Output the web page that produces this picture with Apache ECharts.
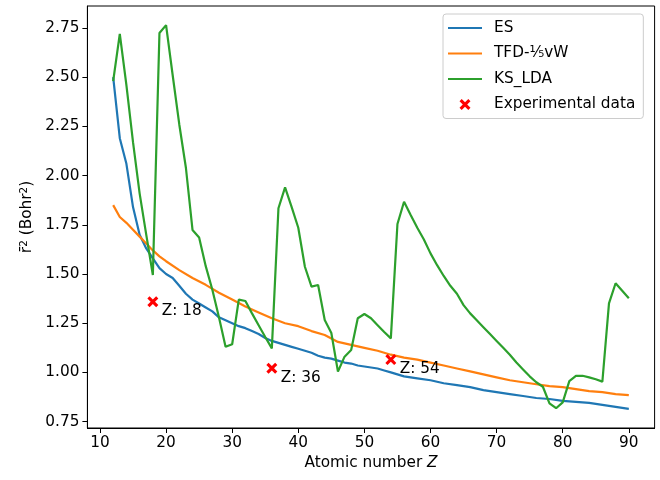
<!DOCTYPE html>
<html>
<head>
<meta charset="utf-8">
<script src="https://cdn.jsdelivr.net/npm/echarts@6/dist/echarts.min.js"></script>
<style>html,body{margin:0;padding:0;background:#fff}#c{width:660px;height:480px}</style>
</head>
<body>
<div id="c"></div>
<script>
// ---- data ----
const esZ   = [12,13,14,15,16,17,18,19,20,21,22,23,24,25,26,27,28,29,30,31,32,33,34,35,36,37,38,39,40,41,42,43,44,45,46,47,48,49,50,51,52,53,54,55,56,58,60,62,64,66,68,70,72,74,76,78,80,82,84,86,88,90];
const esV   = [2.50,2.19,2.06,1.84,1.70,1.63,1.58,1.53,1.50,1.48,1.44,1.40,1.37,1.35,1.33,1.31,1.28,1.265,1.25,1.235,1.225,1.21,1.195,1.175,1.16,1.15,1.14,1.13,1.12,1.11,1.10,1.085,1.075,1.07,1.06,1.05,1.045,1.035,1.03,1.025,1.02,1.01,1.0,0.99,0.98,0.97,0.96,0.945,0.935,0.925,0.91,0.90,0.89,0.88,0.87,0.865,0.855,0.85,0.845,0.835,0.825,0.815];

const tfdZ  = [12,13,14,15,16,17,18,19,20,22,24,26,28,30,32,34,36,38,40,42,44,46,48,50,52,54,56,58,60,62,64,66,68,70,72,74,76,78,80,82,84,86,88,90];
const tfdV  = [1.85,1.79,1.76,1.725,1.69,1.655,1.62,1.59,1.565,1.52,1.48,1.445,1.405,1.37,1.335,1.305,1.275,1.25,1.235,1.21,1.19,1.155,1.14,1.125,1.11,1.09,1.075,1.065,1.05,1.035,1.02,1.005,0.99,0.975,0.96,0.95,0.94,0.93,0.925,0.915,0.905,0.90,0.89,0.885];

const ksZ   = [12,13,14,15,16,17,18,19,20,21,22,23,24,25,26,27,28,29,30,31,32,33,34,35,36,37,38,39,40,41,42,43,44,45,46,47,48,49,50,51,52,53,54,55,56,57,58,59,60,61,62,63,64,65,66,67,68,69,70,71,72,73,74,75,76,77,78,79,80,81,82,83,84,85,86,87,88,89,90];
const ksV   = [2.48,2.72,2.46,2.17,1.91,1.70,1.495,2.725,2.765,2.51,2.26,2.04,1.724,1.686,1.54,1.42,1.28,1.13,1.143,1.37,1.363,1.30,1.24,1.18,1.122,1.834,1.94,1.84,1.735,1.537,1.436,1.444,1.266,1.20,1.004,1.08,1.114,1.275,1.297,1.275,1.24,1.205,1.173,1.754,1.867,1.80,1.735,1.675,1.605,1.545,1.49,1.44,1.40,1.342,1.30,1.265,1.23,1.195,1.16,1.125,1.09,1.05,1.015,0.98,0.95,0.927,0.843,0.818,0.848,0.956,0.982,0.983,0.975,0.965,0.953,1.351,1.453,1.415,1.377];

const expZ  = [18,36,54];
const expV  = [1.359,1.021,1.065];
const expLabels = ['Z: 18','Z: 36','Z: 54'];

const xTicks = [10,20,30,40,50,60,70,80,90];
const yTicks = [0.75,1.00,1.25,1.50,1.75,2.00,2.25,2.50,2.75];

// ---- chart ----
const FONT = 'DejaVu Sans';
const FS = 15.3;
const pairs = (zs, vs) => zs.map((z,i)=>[z, vs[i]]);
const xPath = 'path://M0,2 L2,0 L5,3 L8,0 L10,2 L7,5 L10,8 L8,10 L5,7 L2,10 L0,8 L3,5 Z';
const linePath = 'path://M0,0 L34,0 L34,2.2 L0,2.2 Z';

const chart = echarts.init(document.getElementById('c'), null, {renderer:'canvas'});
chart.setOption({
  animation: false,
  backgroundColor: '#fff',
  textStyle: {fontFamily: FONT},
  grid: {left: 87.4, right: 5.4, top: 6, bottom: 52, show: true, borderColor: '#000', borderWidth: 1, backgroundColor: 'transparent'},
  xAxis: {
    type: 'value', min: 8.1, max: 93.9,
    name: 'Atomic number {i|Z}', nameLocation: 'middle', nameGap: 27,
    nameTextStyle: {fontFamily: FONT, fontSize: FS, color: '#000', rich: {i: {fontStyle: 'italic', fontFamily: FONT, fontSize: FS, color:'#000'}}},
    axisLine: {show: true, onZero: false, lineStyle: {color: '#000', width: 1}},
    axisTick: {show: true, length: 5, lineStyle: {color: '#000', width: 1}, customValues: xTicks},
    axisLabel: {fontFamily: FONT, fontSize: FS, color: '#000', margin: 8, customValues: xTicks, formatter: v => String(v)},
    splitLine: {show: false}
  },
  yAxis: {
    type: 'value', min: 0.7175, max: 2.862,
    name: '{b|r̄}{s|2} (Bohr{s|2})', nameLocation: 'middle', nameGap: 51, nameRotate: 90,
    nameTextStyle: {fontFamily: FONT, fontSize: FS, color: '#000',
      rich: {b: {fontFamily: FONT, fontSize: FS, color:'#000'}, s: {fontFamily: FONT, fontSize: 10.5, color:'#000', verticalAlign: 'top', padding:[0,0,6,0]}}},
    axisLine: {show: true, onZero: false, lineStyle: {color: '#000', width: 1}},
    axisTick: {show: true, length: 5, lineStyle: {color: '#000', width: 1}, customValues: yTicks},
    axisLabel: {fontFamily: FONT, fontSize: FS, color: '#000', margin: 8, customValues: yTicks, formatter: v => v.toFixed(2)},
    splitLine: {show: false}
  },
  legend: {
    orient: 'vertical', left: 443, top: 14,
    padding: [5, 8, 5, 5], itemGap: 7.5, itemWidth: 34, itemHeight: 11,
    borderColor: '#cccccc', borderWidth: 1, borderRadius: 3, backgroundColor: 'rgba(255,255,255,0.8)',
    textStyle: {fontFamily: FONT, fontSize: FS, color: '#000', lineHeight: 18, padding: [0,0,0,7]},
    data: [
      {name: 'ES', icon: linePath},
      {name: 'TFD-⅕vW', icon: linePath},
      {name: 'KS_LDA', icon: linePath},
      {name: 'Experimental data', icon: xPath}
    ]
  },
  series: [
    {name: 'ES', type: 'line', data: pairs(esZ, esV), symbol: 'none', lineStyle: {color: '#1f77b4', width: 2.2}, itemStyle: {color: '#1f77b4'}, z: 3},
    {name: 'TFD-⅕vW', type: 'line', data: pairs(tfdZ, tfdV), symbol: 'none', lineStyle: {color: '#ff7f0e', width: 2.2}, itemStyle: {color: '#ff7f0e'}, z: 4},
    {name: 'KS_LDA', type: 'line', data: pairs(ksZ, ksV), symbol: 'none', lineStyle: {color: '#2ca02c', width: 2.2}, itemStyle: {color: '#2ca02c'}, z: 5},
    {name: 'Experimental data', type: 'scatter', data: pairs(expZ, expV), symbol: xPath, symbolSize: 11,
      itemStyle: {color: '#ff0000', opacity: 1}, z: 6,
      label: {show: true, position: [14.5, 15], align: 'left', verticalAlign: 'middle',
        fontFamily: FONT, fontSize: FS, color: '#000',
        formatter: p => expLabels[p.dataIndex]}}
  ]
});
</script>
</body>
</html>
